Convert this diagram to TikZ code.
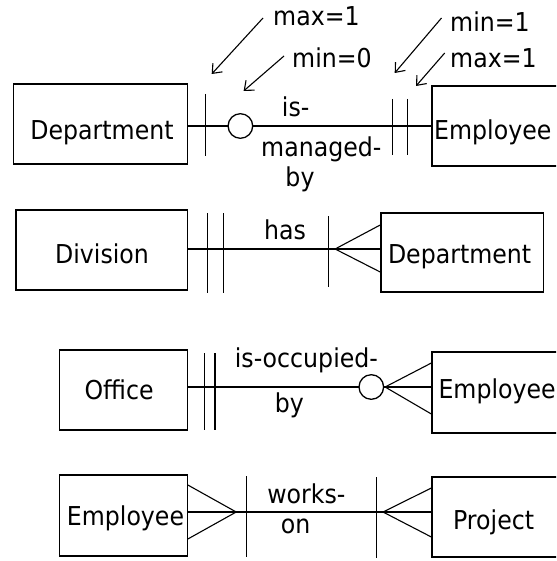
\documentclass[tikz,border=0pt]{standalone}
\usepackage{fontspec}
\setmainfont{DejaVu Sans}[FakeStretch=0.91]
\usetikzlibrary{arrows.meta}
\begin{document}
\begin{tikzpicture}[x=1pt,y=-1pt,
  ent/.style={draw,line width=1.3pt,inner sep=0pt},
  lbl/.style={inner sep=0pt,font=\fontsize{26}{26}\selectfont},
  rel/.style={line width=1.3pt},
  crow/.style={line width=1.1pt},
  note/.style={line width=1.1pt,-{Straight Barb[length=8pt,width=13pt]}}]
\useasboundingbox (0,0) rectangle (556,561);
\clip (0,0) rectangle (556,561);
\fill[white] (0,0) rectangle (556,561);

% ---------- row 1 ----------
\node[ent,minimum width=173.4pt,minimum height=80pt] (dept1) at (100.5,124) {};
\node[ent,minimum width=180pt,minimum height=80pt] (emp1) at (522,126) {};
\node[lbl,anchor=base] (tdept1) at (102,140) {Department};
\node[lbl,anchor=base west] (temp1) at (434,140) {Employee};
\draw[rel] (dept1.east |- 0,126) -- (emp1.west |- 0,126);
\draw[rel] (205.3,94) -- (205.3,156);
\draw[rel,fill=white] (240.4,126) circle[radius=12.3];
\draw[rel] (392.5,99) -- (392.5,155);
\draw[rel] (407.4,99) -- (407.4,155);
\node[lbl,anchor=base] (r1a) at (295.7,117) {is-};
\node[lbl,anchor=base] (r1b) at (321.3,157) {managed-};
\node[lbl,anchor=base] (r1c) at (300,186) {by};
% annotations
\node[lbl,anchor=base west] (n1) at (273,26) {max=1};
\node[lbl,anchor=base west] (n2) at (292,68) {min=0};
\node[lbl,anchor=base west] (n3) at (450,32) {min=1};
\node[lbl,anchor=base west] (n4) at (450,68) {max=1};
\coordinate (a1) at (211.7,74);
\coordinate (a2) at (243.6,91);
\coordinate (a3) at (394.7,73);
\coordinate (a4) at (416,86);
\draw[note] (263,18) -- (a1);
\draw[note] (284,56) -- (a2);
\draw[note] (441.5,18) -- (a3);
\draw[note] (444.7,53) -- (a4);

% ---------- row 2 ----------
\node[ent,minimum width=171.2pt,minimum height=80pt] (div2) at (101.6,250) {};
\node[ent,minimum width=162.7pt,minimum height=79pt] (dept2) at (462.2,252.5) {};
\node[lbl,anchor=base] (tdiv2) at (102,263) {Division};
\node[lbl,anchor=base] (tdept2) at (459.6,263) {Department};
\draw[rel] (div2.east |- 0,249) -- (dept2.west |- 0,249);
\draw[rel] (207.4,213) -- (207.4,293);
\draw[rel] (223.4,213) -- (223.4,293);
\draw[rel] (328.7,216) -- (328.7,287);
\coordinate (c2) at (335.1,249);
\draw[crow] (dept2.west |- 0,225) -- (c2) -- (dept2.west |- 0,272);
\node[lbl,anchor=base] (r2) at (285.1,239) {has};

% ---------- row 3 ----------
\node[ent,minimum width=127.6pt,minimum height=80pt] (off3) at (123.4,390) {};
\node[ent,minimum width=180pt,minimum height=81pt] (emp3) at (522,392.5) {};
\node[lbl,anchor=base] (toff3) at (119.1,399) {Office};
\node[lbl,anchor=base west] (temp3) at (438.3,398) {Employee};
\draw[rel] (off3.east |- 0,387) -- (emp3.west |- 0,387);
\draw[rel] (204.3,353) -- (204.3,430);
\draw[rel] (214.9,353) -- (214.9,430);
\coordinate (c3) at (385.1,387);
\draw[crow] (emp3.west |- 0,363) -- (c3) -- (emp3.west |- 0,414);
\draw[rel,fill=white] (371.3,387) circle[radius=12.3];
\node[lbl,anchor=base] (r3a) at (306.4,367) {is-occupied-};
\node[lbl,anchor=base] (r3b) at (289.4,412) {by};

% ---------- row 4 ----------
\node[ent,minimum width=127.6pt,minimum height=81pt] (emp4) at (123.4,515.5) {};
\node[ent,minimum width=180pt,minimum height=80pt] (proj4) at (522,517) {};
\node[lbl,anchor=base] (temp4) at (125.5,525) {Employee};
\node[lbl,anchor=base] (tproj4) at (493.6,529) {Project};
\draw[rel] (emp4.east |- 0,512) -- (proj4.west |- 0,512);
\coordinate (c4a) at (236.2,512);
\coordinate (c4b) at (383,512);
\draw[crow] (emp4.east |- 0,485) -- (c4a) -- (emp4.east |- 0,539);
\draw[crow] (proj4.west |- 0,488) -- (c4b) -- (proj4.west |- 0,537);
\draw[rel] (246.8,476) -- (246.8,557);
\draw[rel] (376.6,477) -- (376.6,558);
\node[lbl,anchor=base] (r4a) at (306.4,503) {works-};
\node[lbl,anchor=base] (r4b) at (295.7,533) {on};
\end{tikzpicture}
\end{document}
